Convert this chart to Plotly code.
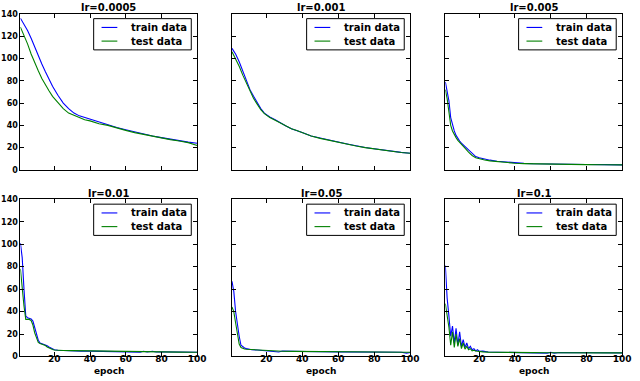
import plotly.graph_objects as go

# ---------------- data ----------------
titles = ["lr=0.0005", "lr=0.001", "lr=0.005", "lr=0.01", "lr=0.05", "lr=0.1"]
series_names = ["train data", "test data"]
y_ticks = [0, 20, 40, 60, 80, 100, 120, 140]
x_ticks = [20, 40, 60, 80, 100]

ep_0005 = [1, 3, 5, 7, 9, 11, 13, 15, 17, 19, 22, 25, 28, 31, 34, 37, 40, 45, 50, 55, 60, 65, 70, 75, 80, 85, 90, 95, 100]
train_0005 = [136, 131, 125, 118, 110, 102, 95, 88, 81, 75, 67, 60, 55, 51, 48.5, 47, 45, 42.5, 40.5, 38, 36, 34, 32, 30.5, 29, 27.5, 26.5, 25, 24]
test_0005 = [128, 121, 113, 104, 96, 89, 82, 76, 71, 66, 60, 55, 51, 49, 47, 45, 44, 41.5, 40, 37.5, 35.5, 33.5, 31.8, 30, 28.8, 27.2, 26, 24.5, 22]

ep_001 = [1, 3, 5, 7, 9, 11, 13, 15, 17, 19, 22, 25, 28, 31, 34, 37, 40, 45, 50, 55, 60, 65, 70, 75, 80, 85, 90, 95, 100]
train_001 = [109, 104, 97, 88, 80, 72, 66, 60, 55, 51, 47.5, 45, 42, 39.5, 37, 35, 33.5, 30.5, 28.5, 26.8, 25, 23.3, 21.5, 20.2, 19, 17.8, 16.8, 15.8, 15]
test_001 = [106, 100, 93, 85, 78, 70, 64, 59, 54, 50.5, 47, 44.5, 42, 39.3, 37, 35.3, 33.5, 30.5, 28.3, 26.5, 25, 23.2, 21.5, 20, 18.8, 17.7, 16.6, 15.6, 15]

ep_005 = [1, 2, 3, 4, 5, 6, 7, 8, 9, 10, 12, 14, 16, 18, 20, 23, 26, 30, 35, 40, 45, 50, 60, 70, 80, 90, 100]
train_005 = [79, 70, 62, 47, 40, 35, 31, 28, 26, 24, 21, 18, 14.5, 12, 11, 9.8, 8.8, 7.8, 7, 6.3, 5.9, 5.6, 5.2, 5, 4.9, 4.8, 4.6]
test_005 = [72, 64, 52, 40, 35, 31.5, 29, 26.5, 24.5, 23, 19.5, 16, 13, 11, 10, 9, 8.2, 7.4, 6.7, 6, 5.7, 5.5, 5.1, 4.9, 4.8, 4.7, 4.6]

ep_01 = [1, 2, 3, 4, 5, 6, 7, 8, 9, 10, 11, 12, 13, 14, 15, 16, 17, 18, 19, 20, 22, 25, 30, 33, 35, 40, 50, 60, 66, 68, 70, 72, 75, 77, 80, 90, 100]
train_01 = [101, 88, 60, 36, 34.5, 34, 33.5, 31.5, 26, 19, 14.5, 12, 11.5, 11, 10.5, 9.5, 8.5, 7.5, 6.5, 6, 5.6, 5.3, 5.1, 4.6, 4.8, 4.8, 4.7, 4.5, 4.3, 3.9, 4.7, 4.0, 4.6, 4.0, 4.1, 3.9, 3.8]
test_01 = [78, 58, 45, 33, 33, 33, 32, 28, 21, 16, 12.5, 11.5, 11, 10.5, 9.8, 8.5, 7.5, 6.8, 6.2, 5.8, 5.5, 5.3, 5.2, 5.1, 5.0, 4.9, 4.7, 4.5, 4.4, 4.35, 4.3, 4.25, 4.2, 4.15, 4.1, 3.9, 3.8]

ep_05 = [1, 2, 3, 4, 5, 6, 7, 8, 9, 10, 12, 15, 20, 25, 27, 29, 35, 40, 50, 60, 70, 80, 86, 88, 95, 98, 100]
train_05 = [67, 58, 40, 28, 18, 10, 8.5, 7.5, 7, 6.5, 6, 5.8, 5.3, 4.8, 4.0, 4.8, 4.5, 4.3, 4.2, 4.1, 4.0, 3.9, 3.5, 4.0, 3.8, 3.0, 3.6]
test_05 = [44, 40, 30, 20, 11, 8, 7, 6.6, 6.4, 6.3, 6, 5.6, 5.2, 4.9, 4.8, 4.7, 4.5, 4.4, 4.3, 4.1, 4.0, 3.9, 3.85, 3.85, 3.8, 3.8, 3.8]

ep_1 = [1, 2, 3, 4, 5, 6, 7, 8, 9, 10, 11, 12, 13, 14, 15, 16, 17, 18, 19, 20, 22, 25, 30, 40, 50, 58, 60, 62, 65, 70, 75, 80, 85, 90, 100]
train_1 = [81, 52, 36, 18, 27, 12, 25, 10, 22, 9, 15, 8, 12, 7, 9, 6, 7, 5, 6, 4.5, 4.8, 4.0, 3.8, 3.6, 3.5, 3.0, 3.8, 3.0, 3.5, 3.4, 3.1, 3.5, 3.0, 3.3, 3.2]
test_1 = [47, 38, 26, 10, 22, 8, 20, 9, 16, 7, 12, 6.5, 9, 6, 7, 5, 5.5, 4.8, 4.6, 4.2, 4.1, 3.9, 3.7, 3.5, 3.4, 3.35, 3.3, 3.3, 3.3, 3.3, 3.25, 3.2, 3.2, 3.2, 3.2]

panels = [
    (ep_0005, train_0005, test_0005),
    (ep_001, train_001, test_001),
    (ep_005, train_005, test_005),
    (ep_01, train_01, test_01),
    (ep_05, train_05, test_05),
    (ep_1, train_1, test_1),
]

# ---------------- layout geometry (pixels in a 640x381 canvas) ----------------
W, H = 640, 381
col_px = [(20.7, 200.0), (235.3, 416.0), (451.7, 631.0)]
row_px = [(10.0, 170.0), (200.0, 361.0)]

FONT = "DejaVu Sans"
BLUE = "#0000ff"
GREEN = "#008000"
COLORS = [BLUE, GREEN]


def px_x(v):
    return v / W


def px_y(v):
    return 1 - v / H


fig = go.Figure()
annotations = []
shapes = []
layout_axes = {}

for i, (ep, tr, te) in enumerate(panels):
    r, c = divmod(i, 3)
    n = i + 1
    xa = "x" if n == 1 else f"x{n}"
    ya = "y" if n == 1 else f"y{n}"
    for name, vals, col in zip(series_names, (tr, te), COLORS):
        fig.add_trace(go.Scatter(x=ep, y=vals, mode="lines", name=name,
                                 line=dict(color=col, width=1.1), xaxis=xa, yaxis=ya,
                                 showlegend=False))

    x0, x1 = col_px[c]
    y0, y1 = row_px[r]
    xdom = [px_x(x0), px_x(x1)]
    ydom = [px_y(y1), px_y(y0)]

    xkey = "xaxis" if n == 1 else f"xaxis{n}"
    ykey = "yaxis" if n == 1 else f"yaxis{n}"
    layout_axes[xkey] = dict(
        domain=xdom, anchor=ya, range=[1, 100], tickvals=x_ticks,
        showticklabels=(r == 1), ticks="inside", ticklen=4, tickcolor="black",
        showline=True, linecolor="black", linewidth=1, mirror="ticks",
        showgrid=False, zeroline=False, ticklabelstandoff=-6,
        tickfont=dict(family=FONT, size=9, color="black", weight="bold"),
    )
    layout_axes[ykey] = dict(
        domain=ydom, anchor=xa, range=[0, 140], tickvals=y_ticks,
        showticklabels=(c == 0), ticks="inside", ticklen=4, tickcolor="black",
        showline=True, linecolor="black", linewidth=1, mirror="ticks",
        showgrid=False, zeroline=False,
        tickfont=dict(family=FONT, size=8, color="black", weight="bold"),
    )

    # panel title
    annotations.append(dict(
        text=titles[i], x=px_x((x0 + x1) / 2), y=px_y(y0 - 6), xref="paper", yref="paper",
        xanchor="center", yanchor="middle", showarrow=False,
        font=dict(family=FONT, size=10, color="black", weight="bold"),
    ))
    # x axis label
    if r == 1:
        annotations.append(dict(
            text="epoch", x=px_x((x0 + x1) / 2), y=px_y(375.5), xref="paper", yref="paper",
            xanchor="center", yanchor="middle", showarrow=False,
            font=dict(family=FONT, size=9, color="black", weight="bold"),
        ))

    # legend box (framed, upper right of each panel)
    bx1 = x1 - 6
    bx0 = bx1 - 99
    by0 = y0 + 5
    by1 = by0 + 32
    shapes.append(dict(type="rect", xref="paper", yref="paper",
                       x0=px_x(bx0), x1=px_x(bx1), y0=px_y(by1), y1=px_y(by0),
                       line=dict(color="black", width=1), fillcolor="white", layer="above"))
    for k, (name, col) in enumerate(zip(series_names, COLORS)):
        ly = by0 + 9 + 14 * k
        shapes.append(dict(type="line", xref="paper", yref="paper",
                           x0=px_x(bx0 + 8), x1=px_x(bx0 + 24), y0=px_y(ly), y1=px_y(ly),
                           line=dict(color=col, width=1.1), layer="above"))
        annotations.append(dict(
            text=name, x=px_x(bx0 + 36), y=px_y(ly), xref="paper", yref="paper",
            xanchor="left", yanchor="middle", showarrow=False,
            font=dict(family=FONT, size=10, color="black", weight="bold"),
        ))

fig.update_layout(
    width=W, height=H, margin=dict(l=0, r=0, t=0, b=0),
    paper_bgcolor="white", plot_bgcolor="white",
    annotations=annotations, shapes=shapes, showlegend=False,
    **layout_axes,
)

fig.write_html(
    "out.html",
    config={"displayModeBar": False},
    post_script="document.body.style.margin='0px';document.body.style.overflow='hidden';",
)
